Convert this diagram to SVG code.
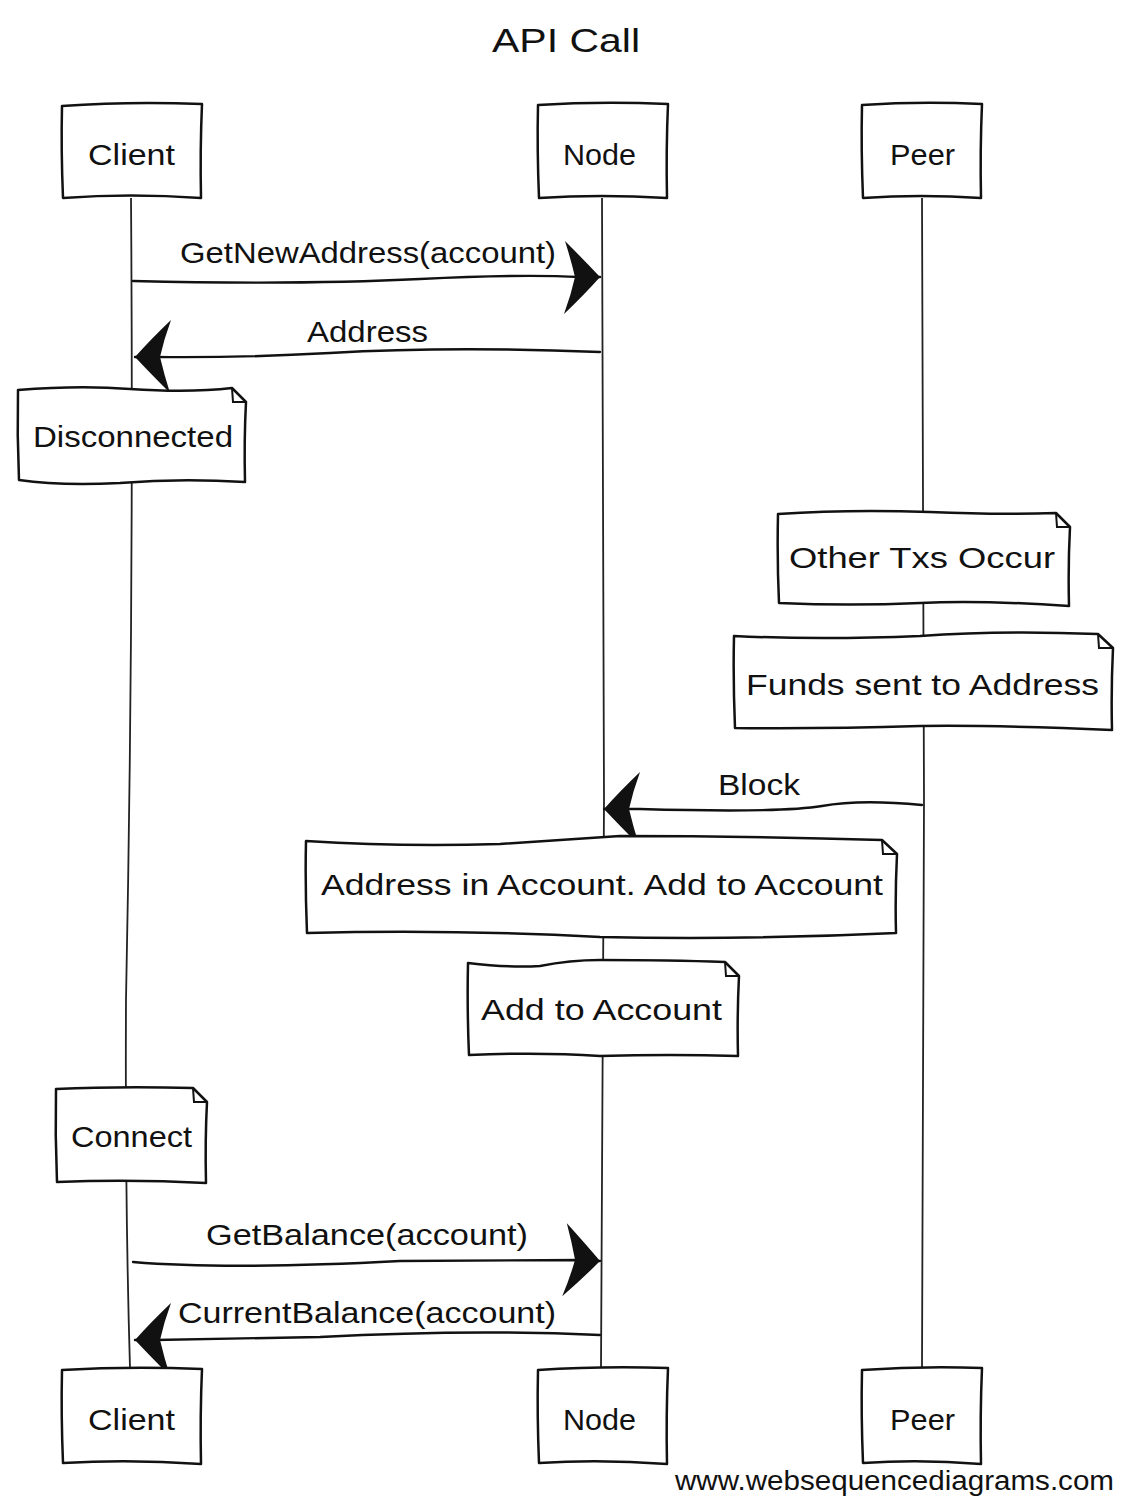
<svg xmlns="http://www.w3.org/2000/svg" width="1122" height="1498" viewBox="0 0 1122 1498">
<style>
  .box { fill: #ffffff; stroke: #111; stroke-width: 2.5; stroke-linejoin: round; }
  .fold { fill: none; stroke: #111; stroke-width: 2; }
  .life { fill: none; stroke: #222; stroke-width: 1.8; }
  .msg { fill: none; stroke: #111; stroke-width: 2.4; stroke-linecap: round; }
  .lbl { font-family: "Liberation Sans", "DejaVu Sans", sans-serif; font-size: 30px; fill: #111; }
  .title { font-family: "Liberation Sans", "DejaVu Sans", sans-serif; font-size: 34px; fill: #111; }
  .wm { font-family: "Liberation Sans", "DejaVu Sans", sans-serif; font-size: 27px; fill: #111; }
</style>
<defs>
  <marker id="head" markerUnits="userSpaceOnUse" viewBox="0 0 40 76" refX="38" refY="37" markerWidth="40" markerHeight="76" orient="auto">
    <path d="M38,37 Q22,20 3,1 Q9,20 13,37 Q9,55 2,74 Q22,55 38,37 Z" fill="#111"/>
  </marker>
</defs>
<rect width="1122" height="1498" fill="#ffffff"/>

<text class="title" x="492" y="52" textLength="148" lengthAdjust="spacingAndGlyphs">API Call</text>

<g id="lifelines">
  <path class="life" d="M131,198 Q134,600 126,1000 Q125,1200 130,1368"/>
  <path class="life" d="M602,198 Q604,600 604,800 Q603,1100 601,1368"/>
  <path class="life" d="M922,198 Q923,600 924,800 Q923,1100 922,1368"/>
</g>

<g id="connectors">
  <path class="msg" d="M133,281 Q300,285 420,279 Q520,274 580,277 L600,277" marker-end="url(#head)"/>
  <text class="lbl" x="180" y="263" textLength="376" lengthAdjust="spacingAndGlyphs">GetNewAddress(account)</text>
  <path class="msg" d="M600,352 Q450,346 330,353 Q240,358 155,357 L135,357" marker-end="url(#head)"/>
  <text class="lbl" x="307" y="342" textLength="121" lengthAdjust="spacingAndGlyphs">Address</text>
  <path class="msg" d="M922,805 Q860,799 822,806 Q780,813 640,809 L604,809" marker-end="url(#head)"/>
  <text class="lbl" x="718" y="795" textLength="82" lengthAdjust="spacingAndGlyphs">Block</text>
  <path class="msg" d="M133,1262 Q230,1270 400,1261 L580,1260 L600,1261" marker-end="url(#head)"/>
  <text class="lbl" x="206" y="1245" textLength="322" lengthAdjust="spacingAndGlyphs">GetBalance(account)</text>
  <path class="msg" d="M600,1335 Q470,1329 320,1337 L155,1340 L135,1340" marker-end="url(#head)"/>
  <text class="lbl" x="178" y="1323" textLength="378" lengthAdjust="spacingAndGlyphs">CurrentBalance(account)</text>
</g>

<g id="client-top">
  <path class="box" d="M62,106 Q130,101 202,104 Q200,150 201,198 Q130,193 63,198 Q61,150 62,106 Z"/>
  <text class="lbl" x="88" y="165" textLength="87" lengthAdjust="spacingAndGlyphs">Client</text>
</g>
<g id="node-top">
  <path class="box" d="M538,105 Q600,101 668,104 Q666,150 667,198 Q600,194 539,198 Q537,150 538,105 Z"/>
  <text class="lbl" x="563" y="165" textLength="73" lengthAdjust="spacingAndGlyphs">Node</text>
</g>
<g id="peer-top">
  <path class="box" d="M862,105 Q920,101 982,104 Q980,150 981,198 Q920,194 863,198 Q861,150 862,105 Z"/>
  <text class="lbl" x="890" y="165" textLength="65" lengthAdjust="spacingAndGlyphs">Peer</text>
</g>

<g id="note-disconnected">
  <path class="box" d="M18,390 Q80,385 130,389 Q190,393 232,388 L246,402 Q244,440 245,482 Q180,478 120,483 Q60,486 19,480 Q17,435 18,390 Z"/>
  <path class="fold" d="M232,388 L233,402 L246,402"/>
  <text class="lbl" x="33" y="447" textLength="200" lengthAdjust="spacingAndGlyphs">Disconnected</text>
</g>

<g id="note-other-txs">
  <path class="box" d="M778,514 Q850,509 930,512 Q1000,515 1056,513 L1070,527 Q1068,565 1069,606 Q980,600 920,603 Q850,606 779,603 Q777,560 778,514 Z"/>
  <path class="fold" d="M1056,513 L1057,527 L1070,527"/>
  <text class="lbl" x="789" y="568" textLength="266" lengthAdjust="spacingAndGlyphs">Other Txs Occur</text>
</g>

<g id="note-funds">
  <path class="box" d="M734,636 Q820,640 920,636 Q1000,630 1098,634 L1113,648 Q1111,690 1112,730 Q1000,725 920,726 Q820,729 735,728 Q733,680 734,636 Z"/>
  <path class="fold" d="M1098,634 L1099,648 L1113,648"/>
  <text class="lbl" x="746" y="695" textLength="353" lengthAdjust="spacingAndGlyphs">Funds sent to Address</text>
</g>

<g id="note-address-in-account">
  <path class="box" d="M306,841 Q400,847 500,844 Q560,840 620,836 Q750,836 882,840 L897,854 Q895,895 896,933 Q750,940 600,937 Q450,929 307,933 Q305,885 306,841 Z"/>
  <path class="fold" d="M882,840 L883,854 L897,854"/>
  <text class="lbl" x="321" y="895" textLength="562" lengthAdjust="spacingAndGlyphs">Address in Account. Add to Account</text>
</g>

<g id="note-add-to-account">
  <path class="box" d="M468,963 Q510,968 540,966 Q570,960 600,960 Q670,960 725,962 L739,976 Q737,1015 738,1056 Q670,1054 600,1056 Q540,1052 469,1055 Q467,1010 468,963 Z"/>
  <path class="fold" d="M725,962 L726,976 L739,976"/>
  <text class="lbl" x="481" y="1020" textLength="241" lengthAdjust="spacingAndGlyphs">Add to Account</text>
</g>

<g id="note-connect">
  <path class="box" d="M56,1089 Q120,1086 193,1088 L207,1102 Q205,1140 206,1183 Q130,1179 57,1182 Q55,1135 56,1089 Z"/>
  <path class="fold" d="M193,1088 L194,1102 L207,1102"/>
  <text class="lbl" x="71" y="1147" textLength="121" lengthAdjust="spacingAndGlyphs">Connect</text>
</g>

<g id="client-bottom">
  <path class="box" d="M62,1370 Q130,1366 202,1369 Q200,1415 201,1464 Q130,1459 63,1463 Q61,1415 62,1370 Z"/>
  <text class="lbl" x="88" y="1430" textLength="87" lengthAdjust="spacingAndGlyphs">Client</text>
</g>
<g id="node-bottom">
  <path class="box" d="M538,1370 Q600,1366 668,1368 Q666,1415 667,1464 Q600,1459 539,1463 Q537,1415 538,1370 Z"/>
  <text class="lbl" x="563" y="1430" textLength="73" lengthAdjust="spacingAndGlyphs">Node</text>
</g>
<g id="peer-bottom">
  <path class="box" d="M862,1370 Q920,1366 982,1368 Q980,1415 981,1464 Q920,1459 863,1463 Q861,1415 862,1370 Z"/>
  <text class="lbl" x="890" y="1430" textLength="65" lengthAdjust="spacingAndGlyphs">Peer</text>
</g>

<text class="wm" x="675" y="1490" textLength="439" lengthAdjust="spacingAndGlyphs">www.websequencediagrams.com</text>
</svg>
